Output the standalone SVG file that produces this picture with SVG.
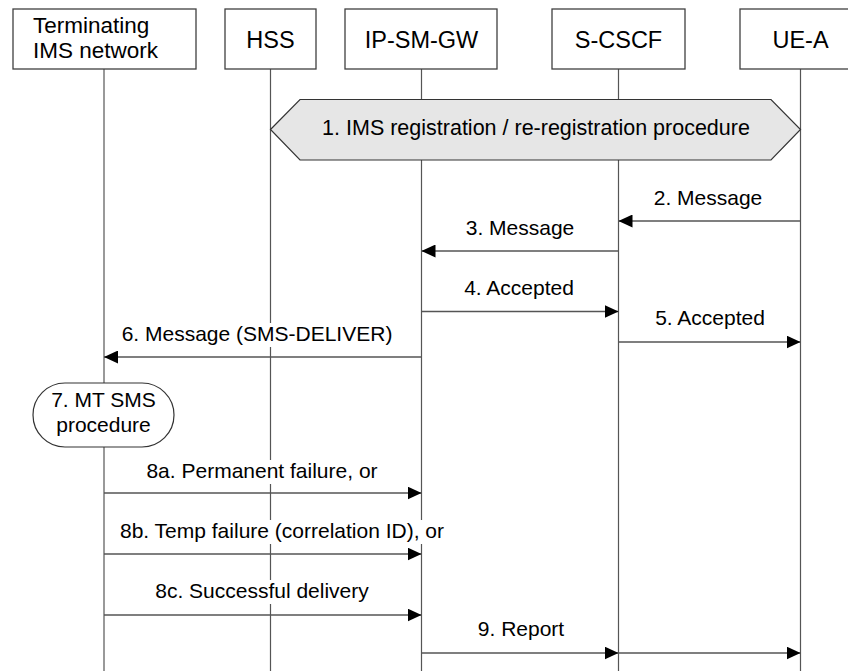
<svg xmlns="http://www.w3.org/2000/svg" width="848" height="671" viewBox="0 0 848 671">
<style>
text{font-family:"Liberation Sans",Arial,sans-serif;font-size:21px;fill:#000;text-anchor:middle}
text.nl{font-size:23.5px}
text.tl{font-size:22.5px;text-anchor:start}
.box{fill:#fff;stroke:#404040;stroke-width:1.3}
.life{stroke:#555;stroke-width:1.2;fill:none}
.msg{stroke:#555;stroke-width:1.5;fill:none;marker-end:url(#ah)}
.bg{fill:#fff}
</style>
<defs>
<marker id="ah" viewBox="0 0 14 13" refX="14" refY="6.5" markerWidth="14" markerHeight="13" markerUnits="userSpaceOnUse" orient="auto">
<path d="M0,0 L14,6.5 L0,13 z" fill="#000"/>
</marker>
</defs>
<rect width="848" height="671" fill="#fff"/>
<g id="lifelines">
<line class="life" x1="104" y1="69" x2="104" y2="671"/>
<line class="life" x1="270.5" y1="69" x2="270.5" y2="671"/>
<line class="life" x1="421.5" y1="69" x2="421.5" y2="671"/>
<line class="life" x1="618.5" y1="69" x2="618.5" y2="671"/>
<line class="life" x1="800.5" y1="69" x2="800.5" y2="671"/>
</g>
<g id="node-term">
<rect class="box" x="13" y="9" width="183" height="60"/>
<text class="tl" x="33" y="33">Terminating</text>
<text class="tl" x="33" y="58">IMS network</text>
</g>
<g id="node-hss">
<rect class="box" x="225" y="9" width="91" height="60"/>
<text class="nl" x="270.5" y="48">HSS</text>
</g>
<g id="node-ipsmgw">
<rect class="box" x="345" y="9" width="152" height="60"/>
<text class="nl" x="421.5" y="48">IP-SM-GW</text>
</g>
<g id="node-scscf">
<rect class="box" x="552" y="9" width="133" height="60"/>
<text class="nl" x="618.5" y="48">S-CSCF</text>
</g>
<g id="node-uea">
<rect class="box" x="740" y="9" width="121" height="60"/>
<text class="nl" x="800.5" y="48">UE-A</text>
</g>
<g id="node-reg">
<polygon points="270.5,129.5 300,99.5 771,99.5 800.5,129.5 771,160 300,160" fill="#e6e6e6" stroke="#333" stroke-width="1.2"/>
<text x="536" y="135" style="font-size:21.5px">1. IMS registration / re-registration procedure</text>
</g>
<g id="node-mtsms">
<rect x="33" y="383" width="141" height="64" rx="32" ry="32" fill="#fff" stroke="#333" stroke-width="1.2"/>
<text x="103.5" y="407">7. MT SMS</text>
<text x="103.5" y="432">procedure</text>
</g>
<g id="connectors">
<line class="msg" x1="800.5" y1="221" x2="618.5" y2="221"/>
<text x="708" y="205">2. Message</text>
<line class="msg" x1="618.5" y1="251" x2="421.5" y2="251"/>
<text x="520" y="235">3. Message</text>
<line class="msg" x1="421.5" y1="311.5" x2="618.5" y2="311.5"/>
<text x="519" y="295">4. Accepted</text>
<line class="msg" x1="618.5" y1="342" x2="800.5" y2="342"/>
<text x="710" y="325">5. Accepted</text>
<line class="msg" x1="421.5" y1="357" x2="104" y2="357"/>
<rect class="bg" x="117" y="323" width="280" height="24"/>
<text x="257" y="341">6. Message (SMS-DELIVER)</text>
<line class="msg" x1="104" y1="493" x2="421.5" y2="493"/>
<rect class="bg" x="142" y="460" width="240" height="24"/>
<text x="262" y="478">8a. Permanent failure, or</text>
<line class="msg" x1="104" y1="554" x2="421.5" y2="554"/>
<rect class="bg" x="115" y="520" width="334" height="24"/>
<text x="282" y="538">8b. Temp failure (correlation ID), or</text>
<line class="msg" x1="104" y1="615" x2="421.5" y2="615"/>
<rect class="bg" x="153" y="580" width="220" height="24"/>
<text x="262" y="598">8c. Successful delivery</text>
<line class="msg" x1="421.5" y1="653" x2="618.5" y2="653"/>
<line class="msg" x1="618.5" y1="653" x2="800.5" y2="653"/>
<text x="521" y="636">9. Report</text>
</g>
</svg>
